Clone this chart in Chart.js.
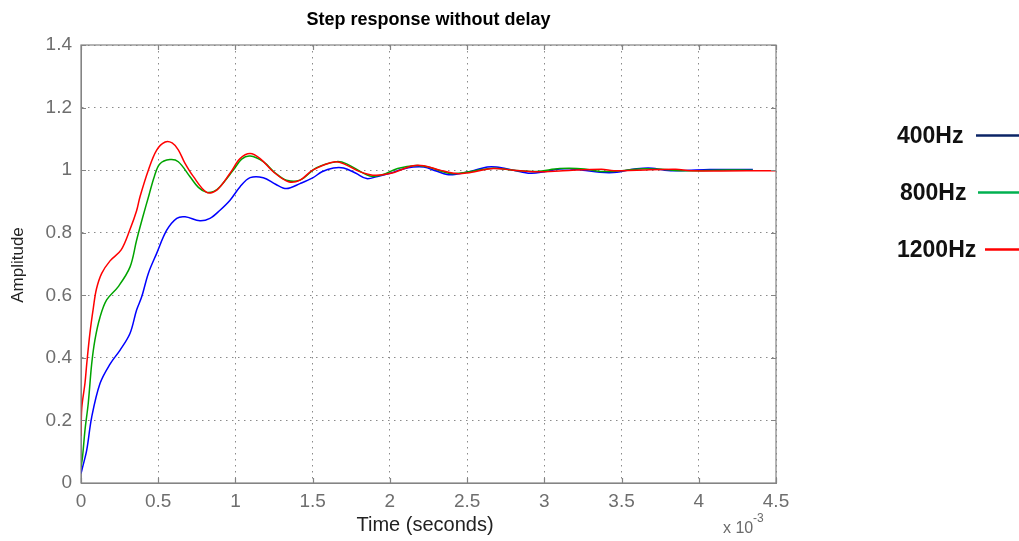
<!DOCTYPE html>
<html>
<head>
<meta charset="utf-8">
<title>Step response without delay</title>
<script src="https://cdn.jsdelivr.net/npm/chart.js"></script>
<style>
  html, body { margin: 0; padding: 0; background: #fff; }
  canvas { display: block; }
</style>
</head>
<body>
<canvas id="myChart" width="1019" height="541"></canvas>
<script>
// step response curves, time in ms (axis shows x 10^-3 s)
const t400 = [0, 0.01, 0.037, 0.069, 0.123, 0.188, 0.253, 0.317, 0.36, 0.393, 0.436, 0.49, 0.555, 0.62, 0.674, 0.77, 0.835, 0.9, 0.965, 1.03, 1.095, 1.18, 1.26, 1.33, 1.418, 1.5, 1.56, 1.634, 1.7, 1.78, 1.85, 1.92, 2.0, 2.08, 2.15, 2.22, 2.3, 2.37, 2.42, 2.52, 2.63, 2.69, 2.8, 2.91, 3.0, 3.1, 3.17, 3.25, 3.36, 3.47, 3.56, 3.64, 3.7, 3.78, 3.86, 3.95, 4.07, 4.35];
const v400 = [0.03, 0.05, 0.105, 0.21, 0.318, 0.38, 0.425, 0.478, 0.553, 0.595, 0.67, 0.734, 0.808, 0.846, 0.851, 0.838, 0.846, 0.872, 0.904, 0.947, 0.976, 0.976, 0.955, 0.941, 0.957, 0.975, 0.995, 1.007, 1.007, 0.99, 0.973, 0.98, 0.99, 1.003, 1.01, 1.01, 0.997, 0.986, 0.986, 0.996, 1.01, 1.01, 1.0, 0.99, 0.995, 1.004, 1.004, 1.0, 0.993, 0.993, 1.002, 1.006, 1.006, 1.0, 0.998, 1.0, 1.002, 1.002];

const t800 = [0, 0.01, 0.026, 0.047, 0.069, 0.09, 0.123, 0.166, 0.24, 0.317, 0.36, 0.4, 0.44, 0.475, 0.51, 0.576, 0.63, 0.706, 0.76, 0.814, 0.86, 0.9, 0.986, 1.04, 1.095, 1.18, 1.26, 1.33, 1.418, 1.526, 1.655, 1.72, 1.87, 1.95, 2.05, 2.17, 2.25, 2.38, 2.45, 2.55, 2.67, 2.8, 2.95, 3.1, 3.26, 3.36, 3.45, 3.53, 3.61, 3.76, 3.85, 3.99, 4.1, 4.35];
const v800 = [0.05, 0.084, 0.17, 0.255, 0.38, 0.457, 0.53, 0.585, 0.627, 0.69, 0.776, 0.85, 0.92, 0.98, 1.02, 1.034, 1.027, 0.979, 0.945, 0.929, 0.932, 0.947, 1.0, 1.035, 1.045, 1.027, 0.99, 0.968, 0.968, 1.008, 1.027, 1.02, 0.981, 0.985, 1.005, 1.015, 1.01, 0.99, 0.99, 0.998, 1.006, 1.0, 0.996, 1.005, 1.004, 0.996, 0.996, 1.0, 1.004, 1.003, 0.999, 0.998, 1.0, 1.0];

const t1200 = [0, 0.005, 0.026, 0.037, 0.058, 0.08, 0.1, 0.134, 0.188, 0.26, 0.317, 0.36, 0.382, 0.436, 0.49, 0.545, 0.59, 0.63, 0.67, 0.727, 0.814, 0.879, 0.965, 1.03, 1.095, 1.16, 1.245, 1.343, 1.418, 1.5, 1.645, 1.72, 1.8, 1.89, 2.0, 2.15, 2.22, 2.325, 2.43, 2.5, 2.67, 2.8, 2.95, 3.12, 3.37, 3.45, 3.6, 3.85, 3.95, 4.5];
const v1200 = [0.15, 0.24, 0.32, 0.38, 0.48, 0.56, 0.62, 0.67, 0.71, 0.745, 0.81, 0.87, 0.915, 1.0, 1.064, 1.09, 1.087, 1.065, 1.025, 0.98, 0.929, 0.936, 0.99, 1.037, 1.053, 1.037, 0.995, 0.963, 0.968, 1.0, 1.027, 1.016, 0.996, 0.984, 0.989, 1.014, 1.014, 1.0, 0.989, 0.991, 1.005, 1.0, 0.995, 0.998, 1.003, 0.998, 1.0, 1.003, 0.998, 0.998];

const seriesNames = ['400Hz', '800Hz', '1200Hz'];
const xTicks = [0, 0.5, 1, 1.5, 2, 2.5, 3, 3.5, 4, 4.5];
const yTicks = [0, 0.2, 0.4, 0.6, 0.8, 1, 1.2, 1.4];

const FONT = "'Liberation Sans', Arial, sans-serif";

function pts(ts, vs) {
  return ts.map((t, i) => ({ x: t, y: vs[i] }));
}

const lineColors = ['#0000ff', '#00a400', '#ff0000'];
const legendColors = ['#0b2466', '#00b050', '#ff0000'];

// frame, inward ticks, title, axis titles, exponent and the side legend
const decorations = {
  id: 'decorations',
  afterDraw(chart) {
    const ctx = chart.ctx;
    const a = chart.chartArea;
    const xs = chart.scales.x, ys = chart.scales.y;
    ctx.save();

    ctx.strokeStyle = '#848484';
    ctx.lineWidth = 1.2;
    ctx.strokeRect(a.left, a.top, a.right - a.left, a.bottom - a.top);
    ctx.beginPath();
    xTicks.forEach(v => {
      const px = Math.round(xs.getPixelForValue(v)) + 0.5;
      ctx.moveTo(px, a.bottom); ctx.lineTo(px, a.bottom - 5);
      ctx.moveTo(px, a.top); ctx.lineTo(px, a.top + 5);
    });
    yTicks.forEach(v => {
      const py = Math.round(ys.getPixelForValue(v)) + 0.5;
      ctx.moveTo(a.left, py); ctx.lineTo(a.left + 5, py);
      ctx.moveTo(a.right, py); ctx.lineTo(a.right - 5, py);
    });
    ctx.stroke();

    ctx.fillStyle = '#000';
    ctx.font = 'bold 18px ' + FONT;
    ctx.textAlign = 'center';
    ctx.textBaseline = 'alphabetic';
    ctx.fillText('Step response without delay', (a.left + a.right) / 2, 25);

    ctx.fillStyle = '#222';
    ctx.font = '20px ' + FONT;
    ctx.fillText('Time (seconds)', 425, 531);

    ctx.save();
    ctx.translate(18, 265);
    ctx.rotate(-Math.PI / 2);
    ctx.font = '17px ' + FONT;
    ctx.textBaseline = 'middle';
    ctx.fillText('Amplitude', 0, 0);
    ctx.restore();

    ctx.fillStyle = '#6a6a6a';
    ctx.textAlign = 'left';
    ctx.font = '16px ' + FONT;
    ctx.fillText('x 10', 723, 533);
    ctx.font = '12px ' + FONT;
    ctx.fillText('-3', 753, 522);

    // legend: label then a short line, as in the reference
    const legendY = [143, 200, 257];
    const legendX = [897, 900, 897];
    const lineX = [976, 978, 985];
    ctx.font = 'bold 23px ' + FONT;
    ctx.lineWidth = 2.5;
    seriesNames.forEach((name, i) => {
      ctx.fillStyle = '#111';
      ctx.fillText(name, legendX[i], legendY[i]);
      ctx.strokeStyle = legendColors[i];
      ctx.beginPath();
      ctx.moveTo(lineX[i], legendY[i] - 7.5);
      ctx.lineTo(1019, legendY[i] - 7.5);
      ctx.stroke();
    });

    ctx.restore();
  }
};

const ctx = document.getElementById('myChart');
new Chart(ctx, {
  type: 'line',
  data: {
    datasets: [
      { label: seriesNames[0], data: pts(t400, v400), borderColor: lineColors[0], order: 2 },
      { label: seriesNames[1], data: pts(t800, v800), borderColor: lineColors[1], order: 1 },
      { label: seriesNames[2], data: pts(t1200, v1200), borderColor: lineColors[2], order: 0 }
    ]
  },
  options: {
    responsive: false,
    animation: false,
    devicePixelRatio: 1,
    layout: { padding: { top: 45, right: 243, bottom: 0, left: 0 } },
    elements: {
      point: { radius: 0 },
      line: { borderWidth: 1.5, tension: 0.35, fill: false }
    },
    plugins: {
      legend: { display: false },
      title: { display: false },
      tooltip: { enabled: false }
    },
    scales: {
      x: {
        type: 'linear',
        min: 0,
        max: 4.5,
        afterFit(scale) { scale.height = 58; },
        afterBuildTicks(scale) { scale.ticks = xTicks.map(v => ({ value: v })); },
        ticks: {
          padding: 7,
          color: '#6e6e6e',
          font: { family: FONT, size: 19 },
          maxRotation: 0,
          autoSkip: false,
          callback: v => String(+v.toFixed(1))
        },
        grid: { color: '#8a8a8a', lineWidth: 1, drawTicks: false },
        border: { color: '#848484', dash: [1.5, 4.5] }
      },
      y: {
        min: 0,
        max: 1.4,
        afterFit(scale) { scale.width = 81; },
        afterBuildTicks(scale) { scale.ticks = yTicks.map(v => ({ value: v })); },
        ticks: {
          padding: 9,
          color: '#6e6e6e',
          font: { family: FONT, size: 19 },
          autoSkip: false,
          callback: v => String(+v.toFixed(1))
        },
        grid: { color: '#8a8a8a', lineWidth: 1, drawTicks: false },
        border: { color: '#848484', dash: [1.5, 4.5] }
      }
    }
  },
  plugins: [decorations]
});
</script>
</body>
</html>
